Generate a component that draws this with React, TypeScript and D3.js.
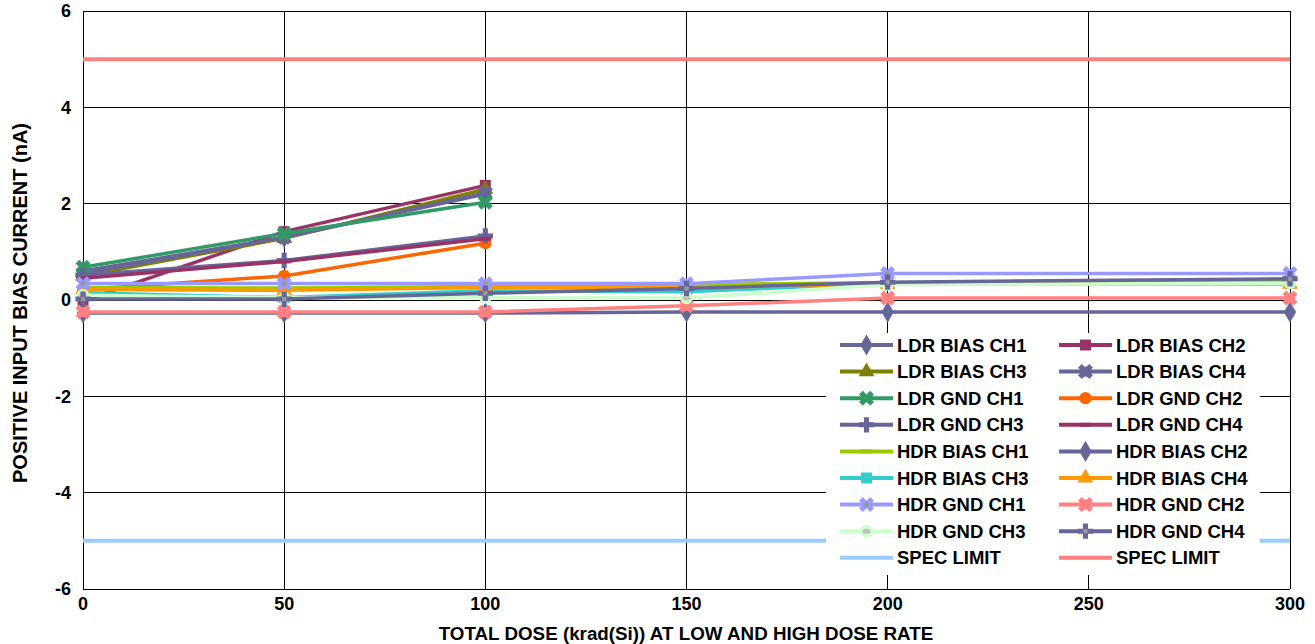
import React from "react";
import * as d3 from "d3";

// dose points (krad(Si))
const ldrDose = [0, 50, 100];
const hdrDose = [0, 50, 100, 150, 200, 300];

// LDR series (nA)
const ldrBiasCh1 = [0.6, 1.3, 2.2];
const ldrBiasCh2 = [-0.02, 1.42, 2.38];
const ldrBiasCh3 = [0.5, 1.28, 2.3];
const ldrBiasCh4 = [0.55, 1.3, 2.22];
const ldrGndCh1 = [0.68, 1.38, 2.03];
const ldrGndCh2 = [0.22, 0.5, 1.18];
const ldrGndCh3 = [0.52, 0.82, 1.33];
const ldrGndCh4 = [0.45, 0.8, 1.27];

// HDR series (nA)
const hdrBiasCh1 = [0.26, 0.25, 0.28, 0.32, 0.36, 0.38];
const hdrBiasCh2 = [-0.27, -0.27, -0.27, -0.25, -0.25, -0.25];
const hdrBiasCh3 = [0.15, 0.05, 0.19, 0.17, 0.35, 0.35];
const hdrBiasCh4 = [0.22, 0.2, 0.26, 0.26, 0.33, 0.33];
const hdrGndCh1 = [0.34, 0.34, 0.34, 0.34, 0.55, 0.55];
const hdrGndCh2 = [-0.25, -0.25, -0.25, -0.12, 0.04, 0.04];
const hdrGndCh3 = [0.1, 0.05, 0.05, 0.04, 0.32, 0.35];
const hdrGndCh4 = [0.02, 0.02, 0.14, 0.24, 0.37, 0.44];

// spec limits
const specLow = -5;
const specHigh = 5;

const xTicks = [0, 50, 100, 150, 200, 250, 300];
const yTicks = [-6, -4, -2, 0, 2, 4, 6];

type Marker = "diamond" | "square" | "triangle" | "star" | "x" | "circle" | "plus" | "dash" | "none";

interface Series {
  name: string;
  dose: number[];
  values: number[];
  color: string;
  marker: Marker;
  inner?: string;
}

const series: Series[] = [
  { name: "LDR BIAS CH1", dose: ldrDose, values: ldrBiasCh1, color: "#666699", marker: "diamond" },
  { name: "LDR BIAS CH2", dose: ldrDose, values: ldrBiasCh2, color: "#993366", marker: "square" },
  { name: "LDR BIAS CH3", dose: ldrDose, values: ldrBiasCh3, color: "#808000", marker: "triangle" },
  { name: "LDR BIAS CH4", dose: ldrDose, values: ldrBiasCh4, color: "#666699", marker: "star" },
  { name: "LDR GND CH1", dose: ldrDose, values: ldrGndCh1, color: "#339966", marker: "x" },
  { name: "LDR GND CH2", dose: ldrDose, values: ldrGndCh2, color: "#FF6600", marker: "circle" },
  { name: "LDR GND CH3", dose: ldrDose, values: ldrGndCh3, color: "#666699", marker: "plus" },
  { name: "LDR GND CH4", dose: ldrDose, values: ldrGndCh4, color: "#993366", marker: "dash" },
  { name: "HDR BIAS CH1", dose: hdrDose, values: hdrBiasCh1, color: "#99CC00", marker: "dash" },
  { name: "HDR BIAS CH2", dose: hdrDose, values: hdrBiasCh2, color: "#666699", marker: "diamond" },
  { name: "HDR BIAS CH3", dose: hdrDose, values: hdrBiasCh3, color: "#33CCCC", marker: "square" },
  { name: "HDR BIAS CH4", dose: hdrDose, values: hdrBiasCh4, color: "#FF9900", marker: "triangle" },
  { name: "HDR GND CH1", dose: hdrDose, values: hdrGndCh1, color: "#9999FF", marker: "x", inner: "#999999" },
  { name: "HDR GND CH2", dose: hdrDose, values: hdrGndCh2, color: "#FF8080", marker: "star" },
  { name: "HDR GND CH3", dose: hdrDose, values: hdrGndCh3, color: "#CCFFCC", marker: "circle", inner: "#C0C0C0" },
  { name: "HDR GND CH4", dose: hdrDose, values: hdrGndCh4, color: "#666699", marker: "plus", inner: "#999999" },
];

const specSeries = [
  { name: "SPEC LIMIT", value: specLow, color: "#99CCFF" },
  { name: "SPEC LIMIT", value: specHigh, color: "#FF8080" },
];

const W = 1315;
const H = 644;
const plot = { left: 83, right: 1290, top: 11, bottom: 589 };
const font = "'Liberation Sans', Arial, sans-serif";

const x = d3.scaleLinear().domain([0, 300]).range([plot.left, plot.right]);
const y = d3.scaleLinear().domain([-6, 6]).range([plot.bottom, plot.top]);

const symbolPath = (m: Marker): string | null => {
  switch (m) {
    case "diamond":
      return d3.symbol(d3.symbolDiamond, 130)();
    case "square":
      return d3.symbol(d3.symbolSquare, 120)();
    case "triangle":
      return d3.symbol(d3.symbolTriangle, 110)();
    case "star":
      return d3.symbol(d3.symbolCross, 140)();
    case "x":
      return d3.symbol(d3.symbolCross, 140)();
    case "circle":
      return d3.symbol(d3.symbolCircle, 120)();
    case "plus":
      return d3.symbol(d3.symbolCross, 130)();
    default:
      return null;
  }
};

const MarkerShape: React.FC<{ m: Marker; color: string; inner?: string; cx: number; cy: number }> = ({
  m,
  color,
  inner,
  cx,
  cy,
}) => {
  if (m === "none") return null;
  if (m === "dash") {
    return <rect x={cx - 6} y={cy - 2} width={12} height={4} fill={color} />;
  }
  const rot = m === "x" || m === "star" ? 45 : 0;
  const p = symbolPath(m);
  return (
    <g transform={`translate(${cx},${cy}) rotate(${rot})`}>
      {m === "star" && <rect x={-5} y={-5} width={10} height={10} fill={color} transform="rotate(45)" />}
      <path d={p || ""} fill={color} />
      {inner && m === "circle" && <ellipse cx={0} cy={0} rx={4} ry={2.5} fill={inner} />}
      {inner && m !== "circle" && <path d={d3.symbol(d3.symbolSquare, 18)() || ""} fill={inner} />}
    </g>
  );
};

const App: React.FC = () => {
  const line = d3
    .line<[number, number]>()
    .x(d => x(d[0]))
    .y(d => y(d[1]));

  const legendItems = [
    ...series.map(s => ({ name: s.name, color: s.color, marker: s.marker, inner: s.inner, width: 4 })),
    ...specSeries.map(s => ({ name: s.name, color: s.color, marker: "none" as Marker, inner: undefined, width: 4 })),
  ];

  const legend = { x: 826, y: 333, w: 434, h: 242, rowH: 26.6, firstRow: 345 };
  const cols = [840, 1059];

  return (
    <svg
      width={W}
      height={H}
      viewBox={`0 0 ${W} ${H}`}
      style={{ position: "absolute", left: 0, top: 0, background: "#fff" }}
      fontFamily={font}
    >
      <rect x={0} y={0} width={W} height={H} fill="#fff" />

      {/* grid */}
      <g stroke="#000" strokeWidth={1} shapeRendering="crispEdges">
        {yTicks.map(t => (
          <line key={"gy" + t} x1={plot.left} x2={plot.right} y1={y(t)} y2={y(t)} />
        ))}
        {xTicks.map(t => (
          <line key={"gx" + t} x1={x(t)} x2={x(t)} y1={plot.top} y2={plot.bottom} />
        ))}
      </g>

      {/* data lines */}
      {series.map((s, i) => (
        <g key={"s" + i}>
          <path
            d={line(s.dose.map((d, j) => [d, s.values[j]] as [number, number])) || ""}
            fill="none"
            stroke={s.color}
            strokeWidth={3.5}
          />
          {s.dose.map((d, j) => (
            <MarkerShape key={j} m={s.marker} color={s.color} inner={s.inner} cx={x(d)} cy={y(s.values[j])} />
          ))}
        </g>
      ))}

      {/* spec limits */}
      {specSeries.map((s, i) => (
        <line key={"sp" + i} x1={plot.left} x2={plot.right} y1={y(s.value)} y2={y(s.value)} stroke={s.color} strokeWidth={4} />
      ))}

      {/* legend */}
      <rect x={legend.x} y={legend.y} width={legend.w} height={legend.h} fill="#fff" />
      {legendItems.map((it, i) => {
        const col = i % 2;
        const row = Math.floor(i / 2);
        const lx = cols[col];
        const ly = legend.firstRow + row * legend.rowH;
        return (
          <g key={"lg" + i}>
            <line x1={lx} x2={lx + 53} y1={ly} y2={ly} stroke={it.color} strokeWidth={it.width} />
            <MarkerShape m={it.marker} color={it.color} inner={it.inner} cx={lx + 26.5} cy={ly} />
            <text x={lx + 57} y={ly} dy="0.36em" fontSize={18.5} fontWeight="bold" fill="#000">
              {it.name}
            </text>
          </g>
        );
      })}

      {/* y ticks */}
      {yTicks.map(t => (
        <text key={"ty" + t} x={71} y={y(t)} dy="0.36em" textAnchor="end" fontSize={18} fontWeight="bold">
          {t}
        </text>
      ))}
      {/* x ticks */}
      {xTicks.map(t => (
        <text key={"tx" + t} x={x(t)} y={604} dy="0.36em" textAnchor="middle" fontSize={18} fontWeight="bold">
          {t}
        </text>
      ))}

      <text x={686} y={633} dy="0.36em" textAnchor="middle" fontSize={18.8} fontWeight="bold">
        TOTAL DOSE (krad(Si)) AT LOW AND HIGH DOSE RATE
      </text>
      <text
        transform={`translate(20,${(plot.top + plot.bottom) / 2 + 3}) rotate(-90)`}
        dy="0.36em"
        textAnchor="middle"
        fontSize={20}
        fontWeight="bold"
      >
        POSITIVE INPUT BIAS CURRENT (nA)
      </text>
    </svg>
  );
};

export default App;
